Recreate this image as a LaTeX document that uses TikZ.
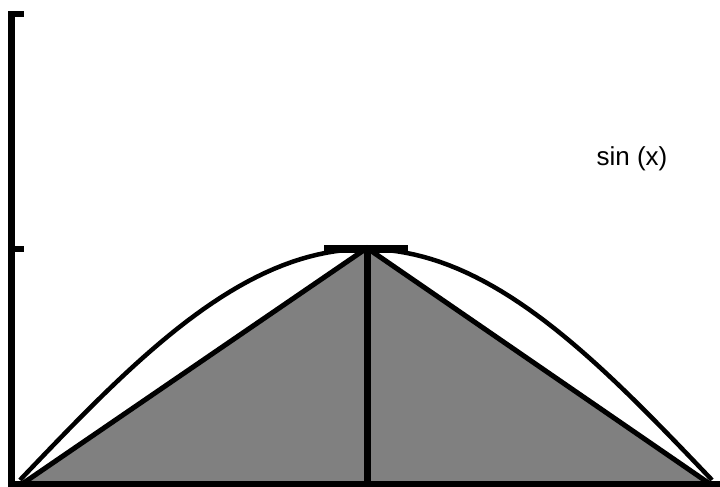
\documentclass[tikz,border=0pt]{standalone}
\usepackage{fontspec}
\setsansfont{Liberation Sans}
\begin{document}
\begin{tikzpicture}[
    x=1pt, y=-1pt,
    axis/.style={line width=7pt},
    tick/.style={line width=6pt},
    edge/.style={line width=5pt},
    curve/.style={line width=4.5pt},
    label/.style={font=\sffamily\fontsize{26}{30}\selectfont}
]
    \useasboundingbox (0,0) rectangle (720,487);
    % triangle under the arch
    \coordinate (left) at (22,484);
    \coordinate (top) at (367,248);
    \coordinate (right) at (710,484);
    \coordinate (base) at (367,484);
    \filldraw[fill=black!50, edge] (left) -- (top) -- (right) -- cycle;
    \draw[line width=7pt] (top) -- (base);
    % sine curve
    \draw[curve, domain=0:180, samples=80] plot ({20+\x/180*692}, {480-231*sin(\x)});
    \draw[line width=8pt] (324,248.5) -- (408,248.5);
    % axes
    \draw[axis] (11.5,12) -- (11.5,487);
    \draw[tick] (8,484) -- (720,484);
    \draw[tick] (8,14.5) -- (24,14.5);
    \draw[tick] (8,249) -- (24,249);
    \node[label] (sinlabel) at (632,159) {sin (x)};
\end{tikzpicture}
\end{document}
